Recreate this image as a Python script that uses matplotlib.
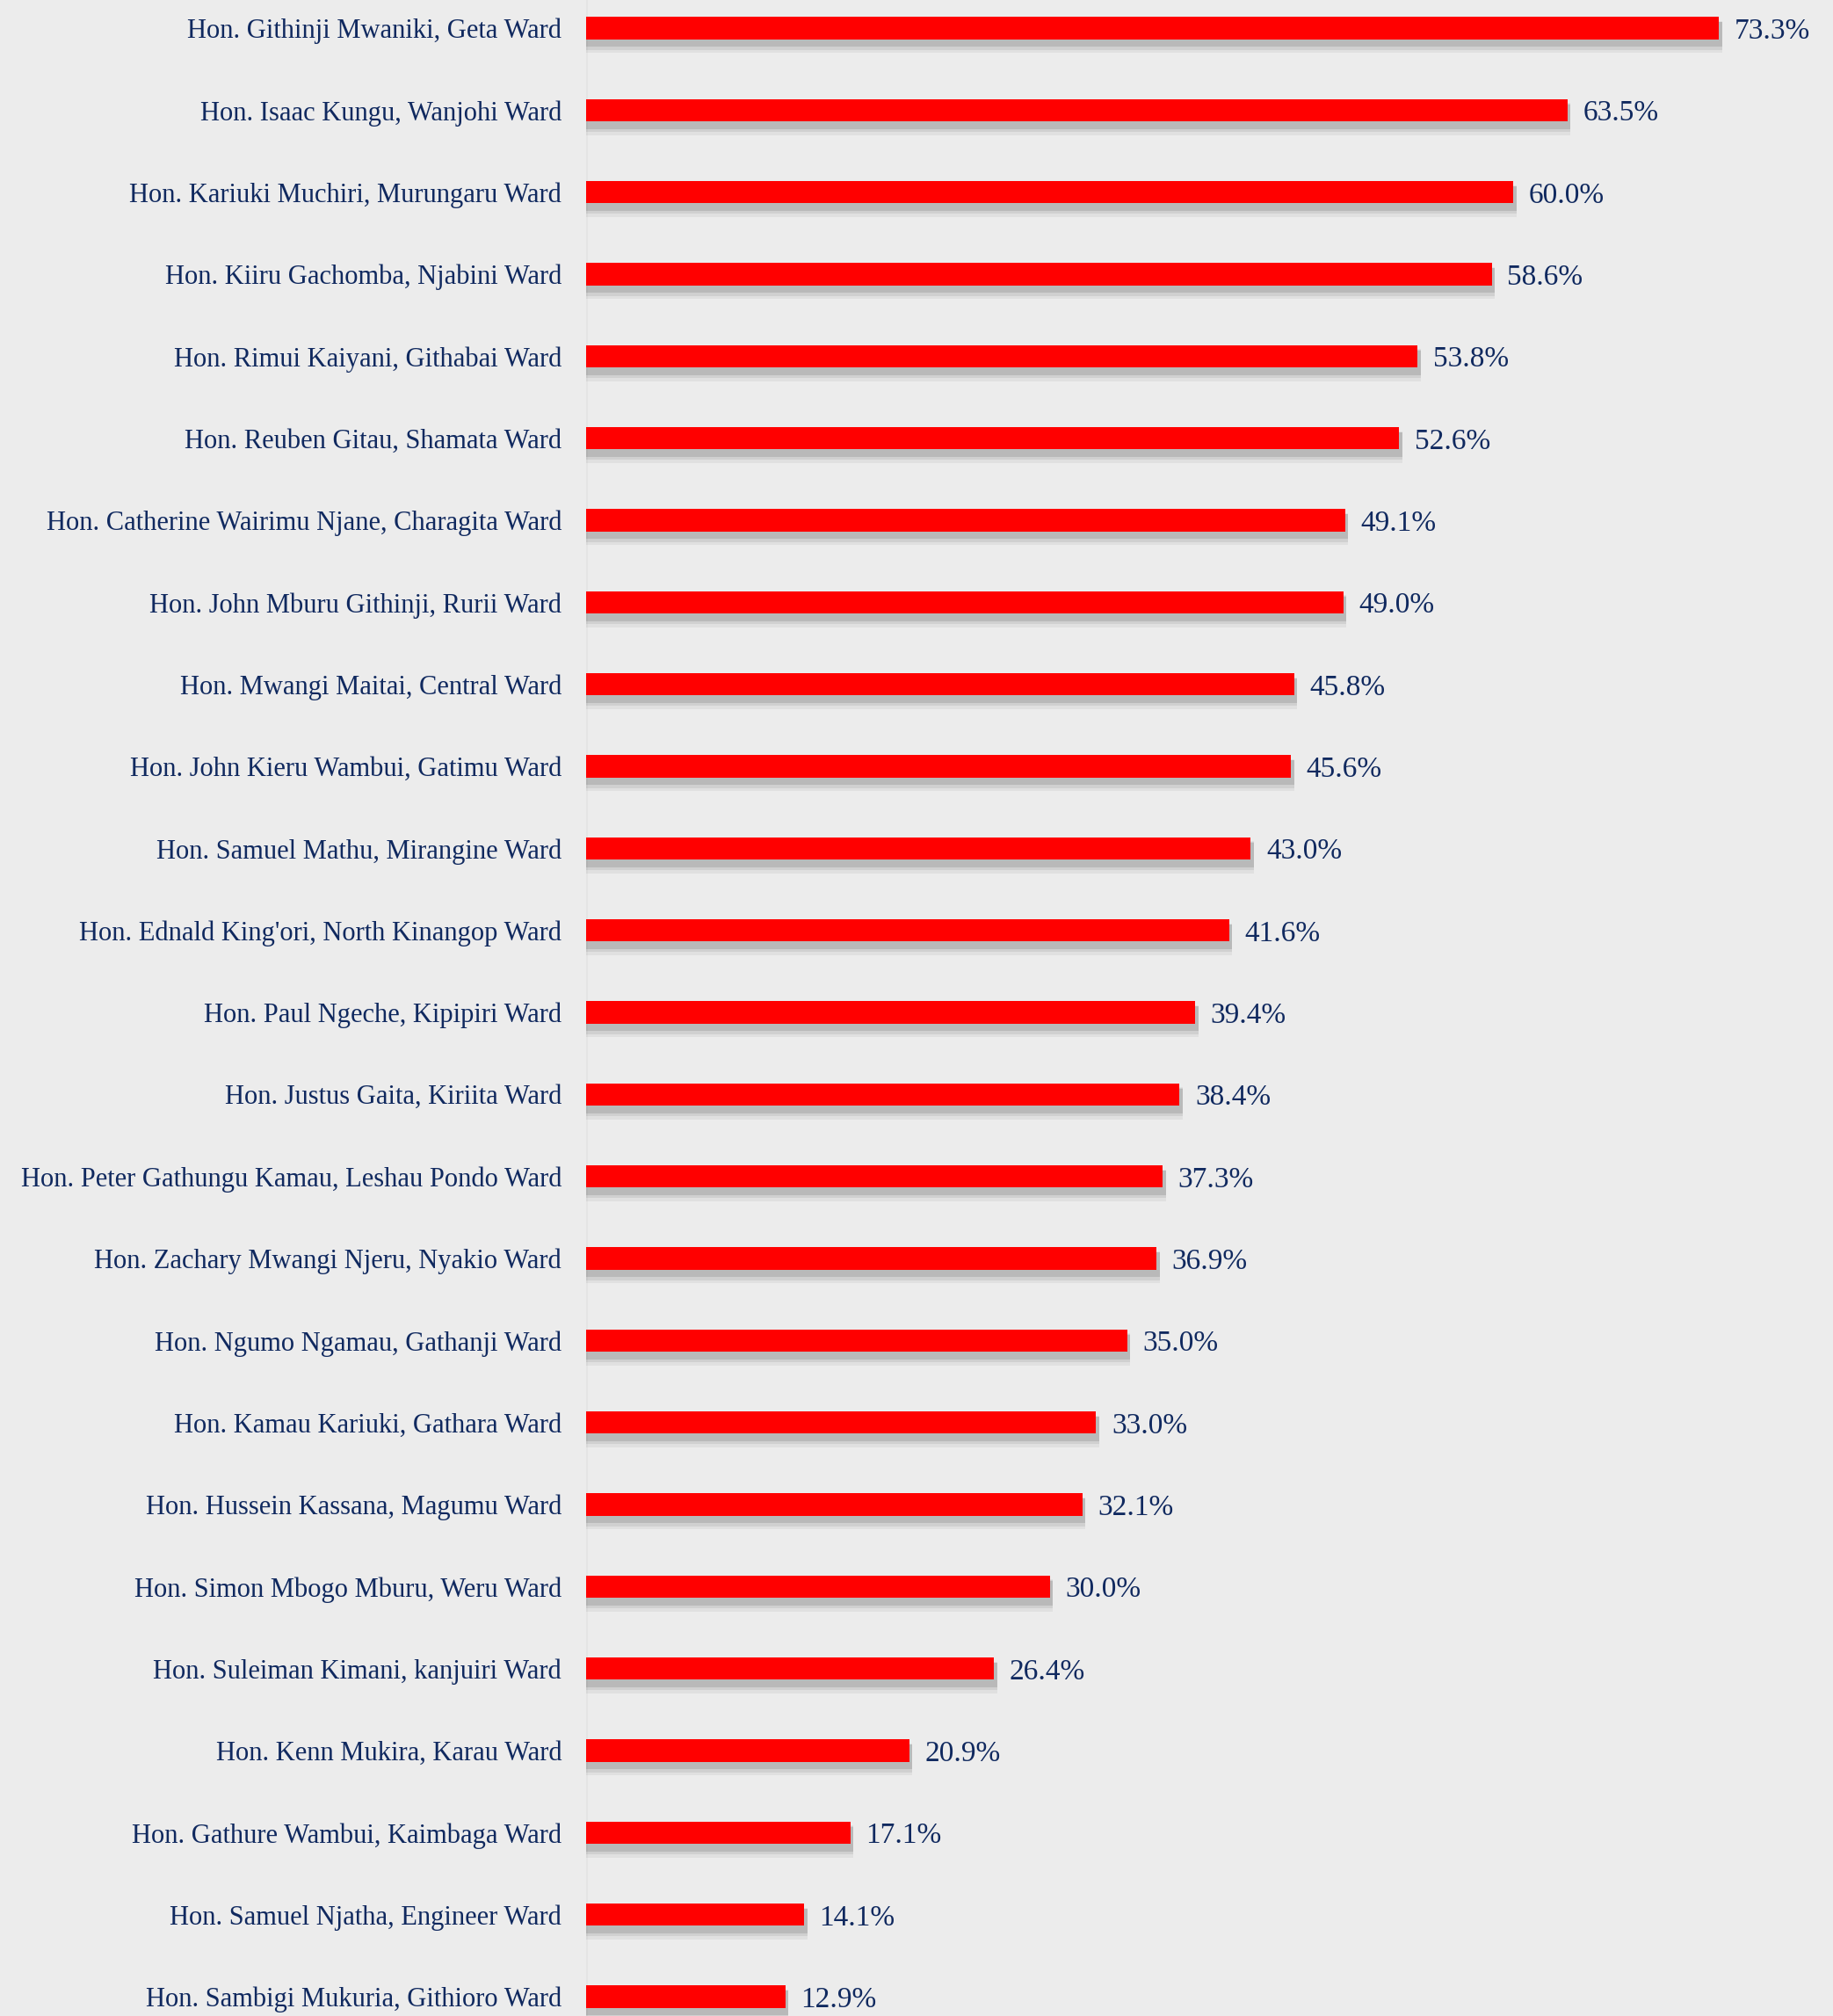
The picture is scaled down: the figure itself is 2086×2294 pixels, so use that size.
import numpy as np
import matplotlib
matplotlib.use('Agg')
import matplotlib.pyplot as plt

# Data -----------------------------------------------------------------------
names = [
    'Hon. Githinji Mwaniki, Geta Ward',
    'Hon. Isaac Kungu, Wanjohi Ward',
    'Hon. Kariuki Muchiri, Murungaru Ward',
    'Hon. Kiiru Gachomba, Njabini Ward',
    'Hon. Rimui Kaiyani, Githabai Ward',
    'Hon. Reuben Gitau, Shamata Ward',
    'Hon. Catherine Wairimu Njane, Charagita Ward',
    'Hon. John Mburu Githinji, Rurii Ward',
    'Hon. Mwangi Maitai, Central Ward',
    'Hon. John Kieru Wambui, Gatimu Ward',
    'Hon. Samuel Mathu, Mirangine Ward',
    "Hon. Ednald King'ori, North Kinangop Ward",
    'Hon. Paul Ngeche, Kipipiri Ward',
    'Hon. Justus Gaita, Kiriita Ward',
    'Hon. Peter Gathungu Kamau, Leshau Pondo Ward',
    'Hon. Zachary Mwangi Njeru, Nyakio Ward',
    'Hon. Ngumo Ngamau, Gathanji Ward',
    'Hon. Kamau Kariuki, Gathara Ward',
    'Hon. Hussein Kassana, Magumu Ward',
    'Hon. Simon Mbogo Mburu, Weru Ward',
    'Hon. Suleiman Kimani, kanjuiri Ward',
    'Hon. Kenn Mukira, Karau Ward',
    'Hon. Gathure Wambui, Kaimbaga Ward',
    'Hon. Samuel Njatha, Engineer Ward',
    'Hon. Sambigi Mukuria, Githioro Ward',
]
scores = [73.3, 63.5, 60.0, 58.6, 53.8, 52.6, 49.1, 49.0, 45.8, 45.6,
          43.0, 41.6, 39.4, 38.4, 37.3, 36.9, 35.0, 33.0, 32.1, 30.0,
          26.4, 20.9, 17.1, 14.1, 12.9]

# Style ----------------------------------------------------------------------
BG = '#ececec'
NAVY = '#10295f'
RED = '#ff0000'
FONT = 'Liberation Serif'
(W, H, DPI) = (2086, 2294, 100)

fig = plt.figure(figsize=(W / DPI, H / DPI), dpi=DPI, facecolor=BG)
ax = fig.add_axes([667 / W, 0, 1 - 667 / W, 1], facecolor=BG)

pos = np.arange(len(names))
bh = 0.27

# soft drop shadow under each bar
for (dy, a, grow) in [(0.11, 0.07, 0.12), (0.095, 0.10, 0.07), (0.08, 0.16, 0.03)]:
    ax.barh(pos + dy, np.array(scores) + 0.2, height=bh + grow, left=0.0,
            color='#444444', alpha=a, linewidth=0, zorder=1)
ax.barh(pos, scores, height=bh, color=RED, linewidth=0, zorder=2)

for y, v in zip(pos, scores):
    ax.text(v + 1.0, y + 0.04, f'{v:.1f}%', va='center', ha='left',
            fontsize=24, color=NAVY, family=FONT)

ax.set_yticks(pos)
ax.set_yticklabels(names, fontsize=22, color=NAVY, family=FONT)
ax.tick_params(axis='y', length=0, pad=20)
ax.set_xticks([])
ax.set_xlim(0, (W - 667) / 17.59)
ax.set_ylim(24.236, -0.343)
for s in ax.spines.values():
    s.set_visible(False)
ax.axvline(0, color='#e4e4e4', linewidth=2, zorder=0)

fig.savefig('out.png', dpi=DPI, facecolor=BG)
